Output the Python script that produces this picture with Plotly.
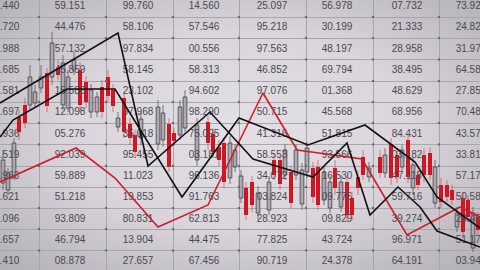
import base64
import plotly.graph_objects as go

# ---------------- background table of quotes ----------------
col0 = ["53.440", "17.720", "38.988", "72.685", "64.581", "25.697", "80.936", "41.519", "12.963", "36.621", "58.096", "29.657", "47.410"]
col1 = ["59.151", "44.476", "57.132", "45.859", "15.586", "12.098", "05.276", "92.039", "59.889", "51.218", "93.809", "46.794", "08.878"]
col2 = ["99.760", "58.106", "97.834", "58.145", "23.102", "97.968", "35.018", "95.455", "11.023", "19.853", "80.831", "13.904", "27.657"]
col3 = ["14.560", "57.546", "00.556", "58.313", "94.602", "98.290", "75.095", "03.181", "96.136", "91.763", "62.813", "44.475", "67.456"]
col4 = ["25.097", "95.218", "97.563", "46.852", "97.076", "50.715", "41.316", "58.553", "34.072", "03.824", "28.923", "77.825", "90.719"]
col5 = ["56.978", "30.199", "48.197", "69.794", "01.368", "45.568", "51.815", "93.566", "16.530", "09.776", "09.829", "43.724", "24.378"]
col6 = ["07.732", "21.333", "28.958", "38.495", "48.629", "68.956", "84.431", "03.182", "47.118", "59.716", "39.274", "96.971", "64.191"]
col7 = ["73.924", "24.827", "31.975", "64.581", "27.853", "70.486", "43.572", "33.814", "57.179", "50.583", "26.457", "51.173", "03.946"]
table_cols = [col0, col1, col2, col3, col4, col5, col6, col7]

# ---------------- candlesticks (time, open, close, high, low) ----------------
cx = [3, 8, 14, 19, 25, 30, 35, 41, 47, 52, 58, 63, 68, 74, 80, 86, 91, 97, 102, 108,
      113, 118, 124, 130, 135, 141, 158, 163, 169, 174, 180, 185, 197, 208, 213, 219, 224, 230, 235, 241,
      246, 252, 258, 269, 274, 280, 285, 291, 296, 302, 307, 313, 318, 324, 330, 335, 341, 347, 352, 358,
      363, 369, 380, 385, 391, 397, 402, 408, 413, 418, 424, 430, 435, 441, 447, 452, 457, 463, 468, 473, 478]
c_open = [183, 190, 177, 117, 105, 105, 103, 88, 73, 77, 68, 105, 108, 70, 70, 82, 112, 112, 87, 77,
          90, 127, 98, 124, 135, 138, 144, 140, 124, 133, 135, 128, 160, 122, 134, 147, 143, 178, 167, 198,
          188, 182, 213, 210, 160, 160, 175, 172, 175, 204, 172, 168, 167, 200, 208, 168, 207, 182, 198, 177,
          157, 177, 157, 173, 144, 155, 167, 140, 188, 175, 155, 153, 203, 185, 185, 190, 227, 198, 200, 248, 217]
c_close = [160, 173, 143, 132, 123, 77, 92, 77, 106, 43, 75, 63, 77, 60, 105, 102, 90, 97, 112, 96,
           106, 118, 132, 138, 152, 119, 107, 113, 167, 141, 107, 97, 125, 143, 152, 160, 182, 143, 150, 176,
           215, 205, 193, 182, 175, 184, 150, 203, 150, 170, 148, 197, 205, 172, 182, 188, 182, 215, 215, 188,
           175, 168, 173, 155, 178, 177, 150, 177, 165, 185, 175, 175, 167, 202, 197, 200, 213, 232, 217, 213, 230]
c_high = [150, 168, 138, 110, 98, 65, 85, 65, 68, 32, 60, 55, 70, 52, 62, 76, 84, 92, 80, 70,
          84, 112, 92, 118, 130, 112, 100, 105, 118, 128, 100, 90, 118, 115, 128, 140, 138, 136, 144, 170,
          182, 176, 186, 176, 154, 155, 144, 166, 144, 163, 142, 162, 160, 166, 176, 160, 175, 176, 192, 170,
          150, 162, 150, 148, 138, 148, 145, 134, 158, 170, 148, 147, 160, 178, 180, 185, 207, 192, 195, 207, 212]
c_low = [190, 195, 180, 140, 128, 110, 108, 93, 112, 85, 80, 110, 112, 75, 112, 108, 118, 117, 118, 102,
         112, 132, 138, 145, 158, 145, 150, 147, 172, 146, 140, 132, 166, 150, 158, 166, 188, 184, 172, 203,
         220, 212, 220, 215, 180, 190, 180, 208, 180, 210, 178, 203, 210, 205, 213, 195, 212, 222, 220, 195,
         180, 182, 178, 178, 185, 183, 172, 183, 195, 190, 182, 180, 208, 208, 202, 205, 232, 238, 222, 252, 236]

# ---------------- overlaid indicator lines ----------------
red_t = [0, 76, 115, 158, 208, 263, 297, 362, 407, 460, 480]
red_v = [182, 148, 178, 227, 205, 93, 150, 159, 235, 207, 217]
blackA_t = [0, 118, 148, 210, 253, 313, 347, 370, 398, 420, 437, 480]
blackA_v = [103, 33, 166, 112, 159, 177, 143, 215, 187, 207, 231, 247]
blackB_t = [0, 13, 67, 115, 182, 239, 308, 365, 415, 437, 480]
blackB_v = [137, 120, 89, 89, 197, 118, 145, 125, 162, 197, 228]

# grid / layout positions
grid_x = [39, 106, 173, 239, 306, 373, 439]
grid_y = [17, 38, 59.5, 81, 102, 123, 144.5, 166, 187, 208, 229, 250.5]
col_x = [4, 70, 138, 204, 272, 337, 407, 471]
row_y = [6.5, 27.5, 49, 70, 91.5, 112.5, 134, 155, 176.5, 197.5, 219, 240, 261]

RED = "#d0121f"
fig = go.Figure()

# table text
tx, ty, tt = [], [], []
for xpos, col in zip(col_x, table_cols):
    for ypos, s in zip(row_y, col):
        tx.append(xpos); ty.append(ypos); tt.append(s)
fig.add_trace(go.Scatter(x=tx, y=ty, text=tt, mode="text", hoverinfo="skip",
                         textfont=dict(family="Liberation Sans, Arial", size=10, color="#4b494f")))

# grid intersection dots
dx, dy = [], []
for gx in grid_x:
    for gy in grid_y:
        dx.append(gx); dy.append(gy)
fig.add_trace(go.Scatter(x=dx, y=dy, mode="markers", hoverinfo="skip",
                         marker=dict(size=2.5, color="#6f6b72")))

# split candles
bear = [c > o for o, c in zip(c_open, c_close)]
def wicks(sel):
    xs, ys = [], []
    for i, b in enumerate(bear):
        if b == sel:
            xs += [cx[i], cx[i], None]
            ys += [c_high[i], c_low[i], None]
    return xs, ys

wx, wy = wicks(False)
fig.add_trace(go.Scatter(x=wx, y=wy, mode="lines", hoverinfo="skip",
                         line=dict(color="rgba(85,83,90,0.75)", width=1)))
wx, wy = wicks(True)
fig.add_trace(go.Scatter(x=wx, y=wy, mode="lines", hoverinfo="skip",
                         line=dict(color="rgba(205,40,55,0.55)", width=1)))

def bodies(sel):
    xs, base, h = [], [], []
    for i, b in enumerate(bear):
        if b == sel:
            top = min(c_open[i], c_close[i]); bot = max(c_open[i], c_close[i])
            xs.append(cx[i]); base.append(top); h.append(bot - top)
    return xs, base, h

bx, bb, bh = bodies(False)
fig.add_trace(go.Bar(x=bx, y=bh, base=bb, width=3.6, hoverinfo="skip",
                     marker=dict(color="rgba(226,223,230,0.85)", line=dict(color="#4f4d54", width=1))))
bx, bb, bh = bodies(True)
fig.add_trace(go.Bar(x=bx, y=bh, base=bb, width=4.0, hoverinfo="skip",
                     marker=dict(color=RED, line=dict(width=0))))

# lines
fig.add_trace(go.Scatter(x=red_t, y=red_v, mode="lines", hoverinfo="skip",
                         line=dict(color="#cf1b2c", width=1.6)))
fig.add_trace(go.Scatter(x=blackA_t, y=blackA_v, mode="lines", hoverinfo="skip",
                         line=dict(color="#121114", width=1.6)))
fig.add_trace(go.Scatter(x=blackB_t, y=blackB_v, mode="lines", hoverinfo="skip",
                         line=dict(color="#121114", width=1.6)))

svg = ('<svg xmlns="http://www.w3.org/2000/svg" width="480" height="270" viewBox="0 0 480 270" '
       'preserveAspectRatio="none"><defs><radialGradient id="g" cx="50%" cy="48%" r="72%">'
       '<stop offset="0" stop-color="#e3e0e5"/><stop offset="0.5" stop-color="#d9d5db"/>'
       '<stop offset="1" stop-color="#b3afb6"/></radialGradient></defs>'
       '<rect width="480" height="270" fill="url(#g)"/></svg>')
src = "data:image/svg+xml;base64," + base64.b64encode(svg.encode()).decode()

fig.update_layout(
    width=480, height=270, autosize=False,
    margin=dict(l=0, r=0, t=0, b=0, pad=0),
    paper_bgcolor="#d5d1d8", plot_bgcolor="rgba(0,0,0,0)",
    showlegend=False, barmode="overlay",
    images=[dict(source=src, xref="paper", yref="paper", x=0, y=1, sizex=1, sizey=1,
                 sizing="stretch", layer="below", xanchor="left", yanchor="top")],
    xaxis=dict(range=[0, 480], tickvals=grid_x, showticklabels=False, ticks="",
               showgrid=True, gridcolor="#a9a5ad", gridwidth=1, zeroline=False, showline=False, fixedrange=True),
    yaxis=dict(range=[270, 0], tickvals=grid_y, showticklabels=False, ticks="",
               showgrid=True, gridcolor="#a9a5ad", gridwidth=1, zeroline=False, showline=False, fixedrange=True),
)

fig.write_html("out.html", config={"displayModeBar": False})
